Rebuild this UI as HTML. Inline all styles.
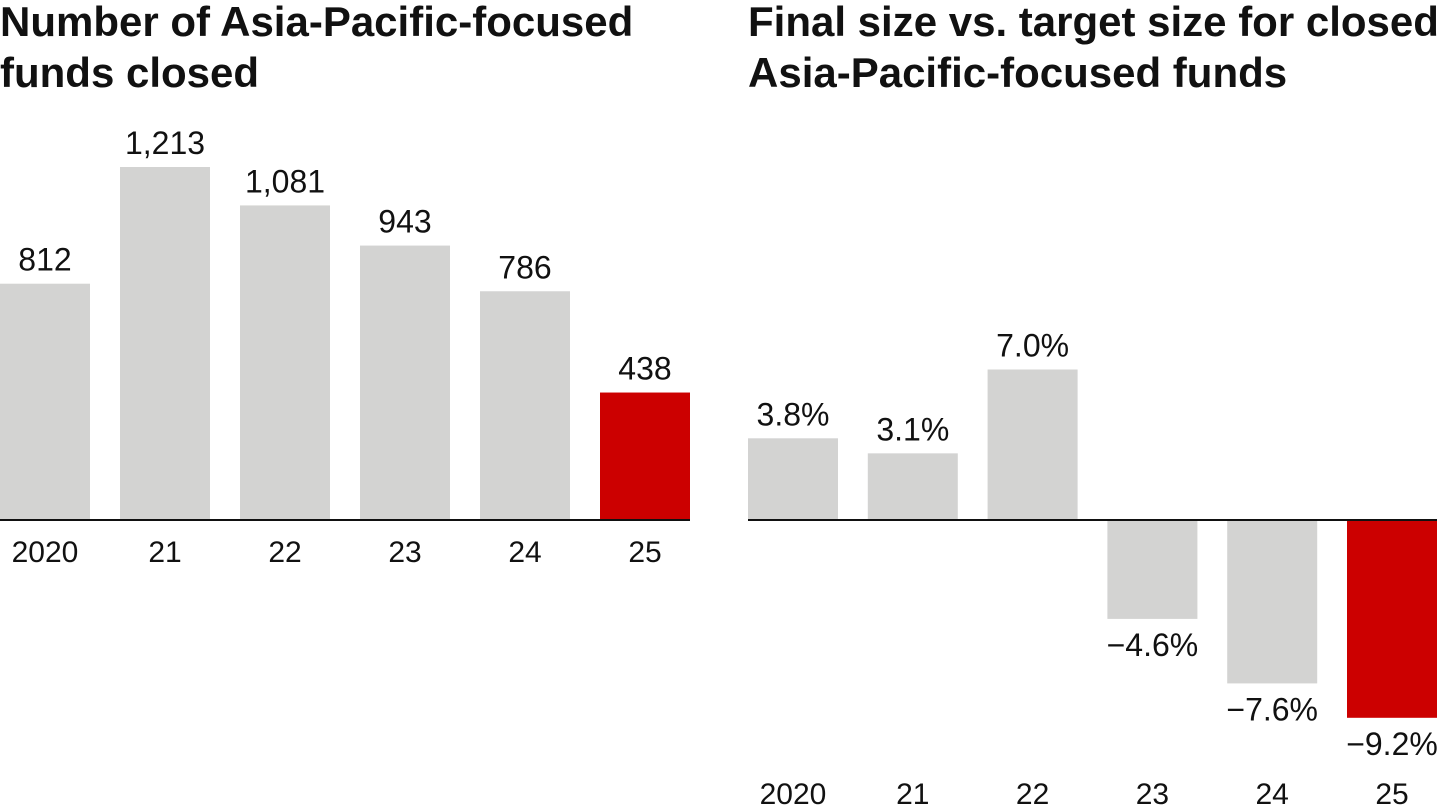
<!DOCTYPE html>
<html><head><meta charset="utf-8">
<style>
html,body{margin:0;padding:0;background:#fff;width:1440px;height:810px;overflow:hidden;font-family:"Liberation Sans",sans-serif;}
.title{position:absolute;font-weight:bold;font-size:42px;line-height:51px;color:#111;letter-spacing:0px;white-space:nowrap;}
svg{position:absolute;left:0;top:0;}
</style></head><body>
<div class="title" style="left:0;top:-4px;">Number of Asia-Pacific-focused<br>funds closed</div>
<div class="title" style="left:748px;top:-4px;">Final size vs. target size for closed<br>Asia-Pacific-focused funds</div>
<svg id="chart" width="1440" height="810"></svg>
<script>
const categories = ["2020","21","22","23","24","25"];
const fundsClosed = [812,1213,1081,943,786,438];
const fundsLabels = ["812","1,213","1,081","943","786","438"];
const sizeDiff = [3.8,3.1,7.0,-4.6,-7.6,-9.2];
const sizeLabels = ["3.8%","3.1%","7.0%","\u22124.6%","\u22127.6%","\u22129.2%"];

const NS="http://www.w3.org/2000/svg";
const svg=document.getElementById('chart');
function mk(tag,attrs){const e=document.createElementNS(NS,tag);for(const k in attrs)e.setAttribute(k,attrs[k]);svg.appendChild(e);return e;}
const base=520;
const grey="#d3d3d2", red="#cc0000";
const yL=v=>base - v*(353/1213);
const xL=i=>i*120;
categories.forEach((c,i)=>{
  const top=yL(fundsClosed[i]);
  const r=mk('rect',{x:xL(i),y:top,width:90,height:base-top,fill:i===5?red:grey});
  
  
  const t=mk('text',{x:xL(i)+45,y:top-13,'text-anchor':'middle','font-size':32,fill:'#111'});
  t.textContent=fundsLabels[i];
  
  
  const l=mk('text',{x:xL(i)+45,y:562,'text-anchor':'middle','font-size':30,fill:'#111'});
  l.textContent=c;
  
  
});
const bl=mk('line',{x1:0,x2:690,y1:base,y2:base,stroke:'#111','stroke-width':2});


const yR=v=>base - v*21.5;
const xR=i=>748 + i*119.8;
categories.forEach((c,i)=>{
  const v=sizeDiff[i], y=yR(v);
  const r=mk('rect',{x:xR(i),y:Math.min(y,base),width:90,height:Math.abs(base-y),fill:i===5?red:grey});
  
  
  const t=mk('text',{x:xR(i)+45,y:v>=0?y-13:y+37,'text-anchor':'middle','font-size':32,fill:'#111'});
  t.textContent=sizeLabels[i];
  
  
  const l=mk('text',{x:xR(i)+45,y:804,'text-anchor':'middle','font-size':30,fill:'#111'});
  l.textContent=c;
  
  
});
const br=mk('line',{x1:748,x2:1437,y1:base,y2:base,stroke:'#111','stroke-width':2});


</script>
</body></html>
